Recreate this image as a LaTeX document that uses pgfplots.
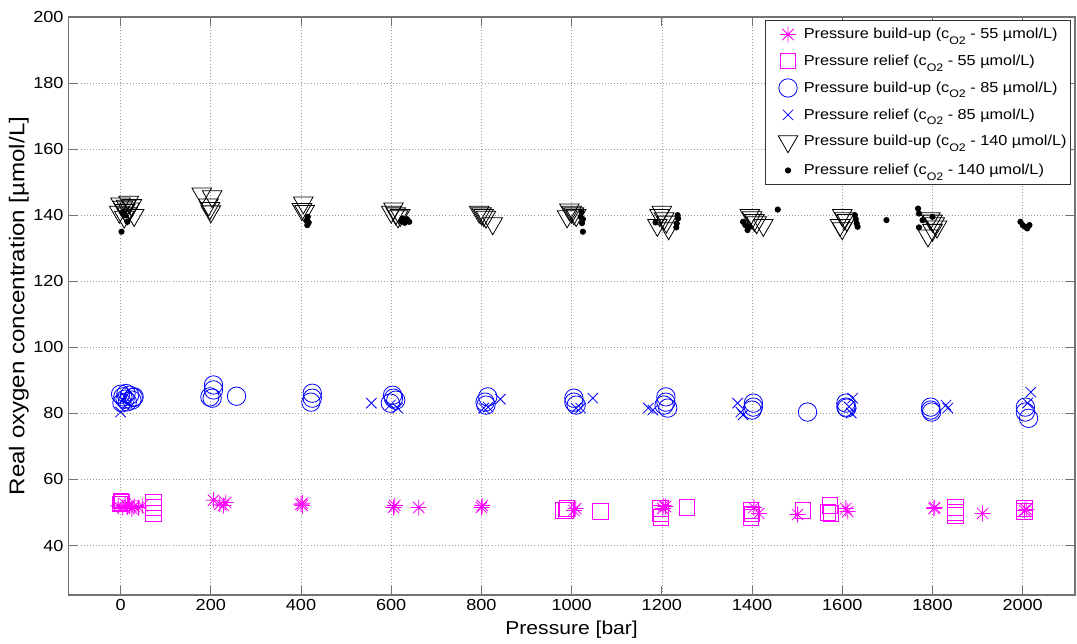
\documentclass[border=0pt]{standalone}
\usepackage{fontspec}
\setmainfont{Liberation Sans}[FakeStretch=1.13]
\usepackage{pgfplots}
\usepackage{pgfplotstable}
\pgfplotsset{compat=1.18}

\definecolor{mgt}{RGB}{255,0,255}
\definecolor{blu}{RGB}{0,0,255}

% eight-armed asterisk (plus and cross)
\pgfdeclareplotmark{ast8}{%
  \pgfpathmoveto{\pgfqpoint{-\pgfplotmarksize}{0pt}}%
  \pgfpathlineto{\pgfqpoint{\pgfplotmarksize}{0pt}}%
  \pgfpathmoveto{\pgfqpoint{0pt}{-\pgfplotmarksize}}%
  \pgfpathlineto{\pgfqpoint{0pt}{\pgfplotmarksize}}%
  \pgfpathmoveto{\pgfqpoint{-0.707\pgfplotmarksize}{-0.707\pgfplotmarksize}}%
  \pgfpathlineto{\pgfqpoint{0.707\pgfplotmarksize}{0.707\pgfplotmarksize}}%
  \pgfpathmoveto{\pgfqpoint{-0.707\pgfplotmarksize}{0.707\pgfplotmarksize}}%
  \pgfpathlineto{\pgfqpoint{0.707\pgfplotmarksize}{-0.707\pgfplotmarksize}}%
  \pgfusepathqstroke}

\newcommand{\Otwo}{\raisebox{-4.3pt}{\fontsize{8.2}{8.2}\selectfont O2}}

% c_O2 = 55 umol/L, pressure build-up
\pgfplotstableread{
x y
-5 52.0
5 51.5
10 52.5
15 51.8
20 52.0
25 51.2
30 51.8
40 51.5
48 52.0
206 53.7
220 52.5
228 52.1
233 53.0
400 52.5
403 52.8
403 52.1
605 51.5
608 52.1
661 51.5
800 51.5
802 52.1
1005 50.6
1009 51.2
1202 51.2
1204 52.1
1208 51.8
1404 51.5
1415 49.7
1501 49.4
1608 51.2
1612 50.3
1803 51.2
1805 51.5
1911 49.7
2004 50.6
2008 50.9
}\buildA
% c_O2 = 55 umol/L, pressure relief
\pgfplotstableread{
x y
0 53.5
3 53.0
-2 52.5
73 53.0
73 51.5
73 49.7
982 50.6
987 50.6
990 51.2
1064 50.3
1197 51.2
1197 49.7
1198 48.5
1255 51.5
1397 50.6
1397 48.5
1400 49.5
1512 50.6
1572 52.1
1575 49.7
1568 50.0
1851 51.5
1851 50.0
1851 49.1
2004 51.2
2004 50.3
}\reliefA
% c_O2 = 85 umol/L, pressure build-up
\pgfplotstableread{
x y
0 85.8
5 85.0
10 84.3
15 83.5
20 85.5
25 84.0
30 85.0
3 83.2
12 86.0
28 84.8
206 88.6
206 87.1
203 84.6
198 85.0
257 85.2
425 86.1
425 84.6
422 83.4
603 85.5
605 84.6
598 83.1
610 84.0
814 85.0
808 83.4
810 82.5
1005 84.6
1005 83.4
1010 82.5
1209 85.0
1209 83.4
1213 81.6
1205 82.5
1403 83.1
1403 81.9
1400 81.0
1523 80.4
1608 83.1
1608 81.9
1610 81.6
1796 81.9
1796 81.0
1798 80.4
2006 81.9
2006 80.4
2013 78.5
}\buildB
% c_O2 = 85 umol/L, pressure relief
\pgfplotstableread{
x y
0 80.4
5 84.0
10 85.0
15 83.0
556 83.1
598 82.5
614 81.6
842 84.3
805 81.6
815 81.9
1047 84.6
1010 81.6
1020 81.6
1170 81.6
1180 81.0
1368 83.1
1375 80.4
1380 79.5
1623 84.6
1615 82.0
1620 80.1
1830 82.5
1834 81.6
2018 86.4
2011 83.1
}\reliefB
% c_O2 = 140 umol/L, pressure build-up
\pgfplotstableread{
x y
0 143.5
5 142.5
10 141.5
15 140.5
20 142.0
25 143.0
30 140.0
-3 141.0
8 139.5
18 144.0
12 142.8
180 146.5
203 145.7
195 143.2
198 142.1
200 141.1
405 143.8
402 141.8
408 141.2
605 142.0
600 141.0
610 140.5
615 139.6
620 140.0
795 141.0
800 140.5
805 140.0
810 139.5
825 137.5
995 141.7
1000 141.0
1005 140.5
990 139.6
1010 140.0
1200 141.0
1195 140.0
1205 139.0
1210 138.0
1190 137.0
1215 136.0
1395 140.0
1400 139.3
1405 138.5
1410 137.8
1425 137.0
1600 140.0
1605 139.0
1610 138.5
1595 137.0
1600 136.0
1795 139.0
1800 138.3
1805 137.5
1810 136.5
1800 135.5
1790 133.8
}\buildC
% c_O2 = 140 umol/L, pressure relief
\pgfplotstableread{
x y
5 141.0
10 140.0
15 138.0
2 135.0
415 139.5
413 138.5
417 137.8
414 137.0
625 139.0
635 138.8
640 138.0
630 137.7
622 138.2
1022 141.0
1020 139.5
1025 138.8
1023 137.6
1025 135.0
1186 137.8
1235 140.0
1236 139.0
1233 137.5
1232 136.3
1380 138.0
1385 137.0
1390 135.5
1395 136.5
1457 141.7
1628 140.0
1630 138.8
1632 137.5
1634 136.5
1698 138.5
1768 142.0
1770 140.5
1778 138.5
1770 136.3
1800 139.5
1995 138.0
2000 137.0
2005 136.5
2010 136.0
2015 137.0
}\reliefC

\begin{document}
\begin{tikzpicture}
\useasboundingbox (-51.2pt,-36pt) rectangle (756.5pt,446.25pt);
\begin{axis}[
  at={(0,0)}, anchor=south west,
  scale only axis, width=755pt, height=433.5pt,
  xmin=-116, xmax=2116, ymin=25, ymax=200,
  xtick={0,200,...,2000}, ytick={40,60,...,200},
  /pgf/number format/assume math mode=true,
  /pgf/number format/1000 sep={},
  tick align=inside, xtick pos=both, ytick pos=both,
  xticklabel pos=lower, yticklabel pos=left,
  major tick length=7pt,
  tick style={black!55, line width=0.6pt},
  axis line style={black!55, line width=1pt},
  grid=major,
  major grid style={black!40, line width=0.5pt, dash pattern=on 0.7pt off 1.6pt},
  ticklabel style={font=\fontsize{12}{12}\selectfont},
  every axis x label/.style={at={(axis description cs:0.5,-0.0606)}, anchor=center},
  every axis y label/.style={at={(axis description cs:-0.049,0.5)}, anchor=center, rotate=90},
  xlabel={\fontsize{14}{14}\selectfont Pressure [bar]},
  ylabel={\fontsize{16}{16}\selectfont Real oxygen concentration [µmol/L]},
  legend cell align=left,
  legend image code/.code={%
    \path (0pt,0pt) (25pt,0pt);
    \draw[#1] plot coordinates {(15.5pt,0pt)};},
  legend style={at={(0.996,0.995)}, anchor=north east,
    font=\fontsize{10.8}{10.8}\selectfont, draw=black!80, line width=0.6pt,
    fill=white, row sep=6.6pt, inner xsep=1pt, inner ysep=4pt},
  every axis plot/.append style={line width=0.6pt},
]
\addplot[only marks, mgt, mark=ast8, mark size=6pt] table {\buildA};
\addlegendentry{Pressure build-up (c\Otwo{} - 55 µmol/L)}
\addplot[only marks, mgt, mark=square, mark size=5.75pt] table {\reliefA};
\addlegendentry{Pressure relief (c\Otwo{} - 55 µmol/L)}
\addplot[only marks, blu, mark=o, mark size=6.9pt] table {\buildB};
\addlegendentry{Pressure build-up (c\Otwo{} - 85 µmol/L)}
\addplot[only marks, blu, mark=x, mark size=5.5pt] table {\reliefB};
\addlegendentry{Pressure relief (c\Otwo{} - 85 µmol/L)}
\addplot[only marks, black, mark=triangle, mark size=8.5pt, mark options={rotate=180}] table {\buildC};
\addlegendentry{Pressure build-up (c\Otwo{} - 140 µmol/L)}
\addplot[only marks, black, mark=*, mark size=2pt] table {\reliefC};
\addlegendentry{Pressure relief (c\Otwo{} - 140 µmol/L)}
\end{axis}
\end{tikzpicture}
\end{document}
